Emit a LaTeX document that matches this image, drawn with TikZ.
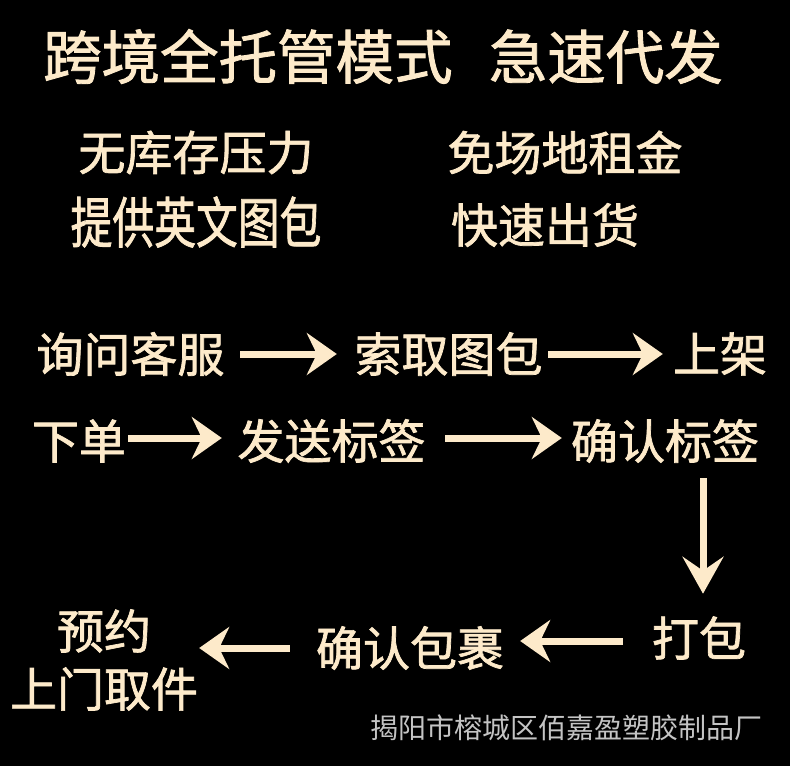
\documentclass[tikz,border=0pt]{standalone}
\usepackage{graphicx}
\usepackage{fontspec}
\newfontfamily\cjk{Noto Sans CJK SC}[FakeBold=1.5]
\newfontfamily\cjkf{Noto Sans CJK SC}
\usetikzlibrary{arrows.meta}
\definecolor{cream}{RGB}{253,234,202}
\definecolor{footgray}{RGB}{196,196,196}
\tikzset{
  txt/.style={inner sep=0pt, anchor=center, text=cream, font=\fontsize{47}{47}\selectfont\cjk},
  ttl/.style={inner sep=0pt, anchor=center, text=cream, font=\fontsize{58.5}{58.5}\selectfont\cjk},
  foot/.style={inner sep=0pt, anchor=center, text=footgray, font=\fontsize{28}{28}\selectfont\cjkf},
  harr/.style={draw=cream, line width=7pt, -{Stealth[length=30pt, width=42pt, inset=10pt, fill=cream]}},
  varr/.style={draw=cream, line width=7pt, -{Stealth[length=37pt, width=41pt, inset=14pt, fill=cream]}}
}
\begin{document}
\begin{tikzpicture}[x=1pt, y=-1pt]
\fill[black] (0,0) rectangle (790,766);
\useasboundingbox (0,0) rectangle (790,766);
% title
\node[ttl] (title) at (383,56.5) {跨境全托管模式\hspace{0.62em}急速代发};
% features
\node[txt] (f1) at (196,152.5) {无库存压力};
\node[txt] (f2) at (565,152.5) {免场地租金};
\node[txt, font=\fontsize{55}{55}\selectfont\cjk] (f3) at (196,222) {\scalebox{0.76}[1]{提供英文图包}};
\node[txt] (f4) at (545,225) {快速出货};
% flow row 1
\node[txt] (zx) at (130.5,354) {询问客服};
\node[txt] (sq) at (448.5,354) {索取图包};
\node[txt] (sj) at (720,354) {上架};
% flow row 2
\node[txt] (xd) at (79,441) {下单};
\node[txt] (fs) at (331.5,441) {发送标签};
\node[txt] (qr) at (665,441) {确认标签};
% flow row 3
\node[txt, align=center, font=\fontsize{47}{58}\selectfont\cjk] (yy) at (104,660) {预约\\上门取件};
\node[txt] (bg) at (410,648) {确认包裹};
\node[txt] (db) at (699,638) {打包};
% footer
\node[foot] (ft) at (566,727.5) {揭阳市榕城区佰嘉盈塑胶制品厂};
% arrows
\draw[harr] ([xshift=15.5pt]zx.east) -- ([xshift=-17.5pt]sq.west);
\draw[harr] ([xshift=5.5pt]sq.east) -- ([xshift=-10pt]sj.west);
\draw[harr] ([xshift=2pt,yshift=3pt]xd.east) -- ([xshift=-15.5pt,yshift=3pt]fs.west);
\draw[harr] ([xshift=19.5pt,yshift=3pt]fs.east) -- ([xshift=-9pt,yshift=3pt]qr.west);
\draw[varr] ([xshift=38pt,yshift=-15.5pt]qr.south) -- ([xshift=4pt,yshift=22.5pt]db.north);
\draw[harr] ([xshift=-29pt,yshift=-3pt]db.west) -- ([xshift=16pt,yshift=7pt]bg.east);
\draw[harr] ([xshift=-26pt]bg.west) -- ([xshift=1pt,yshift=12pt]yy.east);
\end{tikzpicture}
\end{document}
